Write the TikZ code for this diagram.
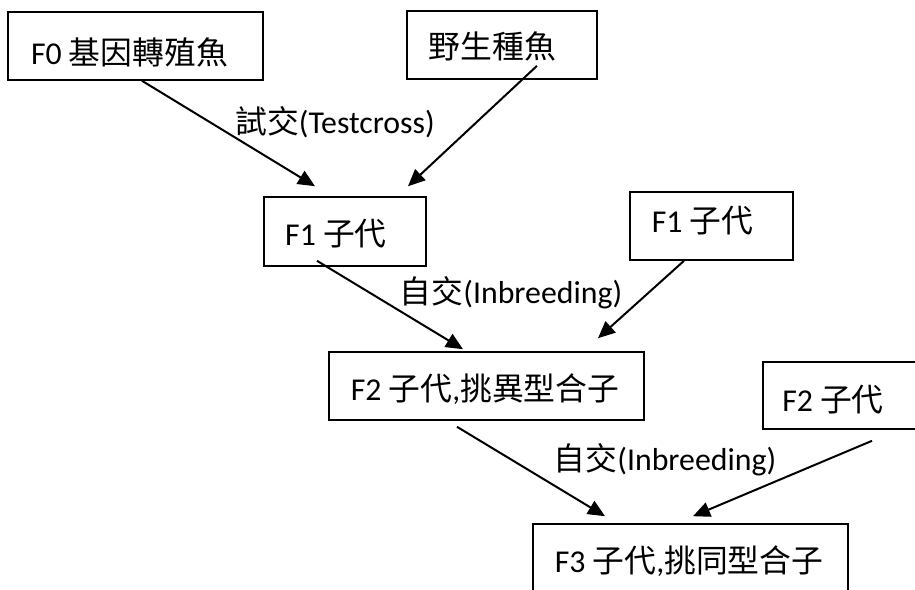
\documentclass[tikz,border=0pt]{standalone}
\usepackage{fontspec}
\setmainfont{Carlito}
\newfontfamily\cjk{Noto Sans CJK TC}
\usetikzlibrary{arrows.meta}
\begin{document}
\begin{tikzpicture}[x=1pt,y=-1pt,
  box/.style={draw=black,line width=1.6pt,rectangle,inner sep=0pt},
  txt/.style={inner sep=0pt,font=\fontsize{31.8}{36}\selectfont},
  arr/.style={line width=2pt,-{Triangle[length=17pt,width=15pt]}}]
\useasboundingbox (0,0) rectangle (915,589);
\clip (0,0) rectangle (915,589);
% boxes
\node[box,minimum width=255pt,minimum height=68pt] (b1) at (135.5,46) {};
\node[box,minimum width=190pt,minimum height=68pt] (b2) at (502,45) {};
\node[box,minimum width=162pt,minimum height=69pt] (b3) at (345,231.5) {};
\node[box,minimum width=163pt,minimum height=68pt] (b4) at (711.5,226) {};
\node[box,minimum width=315pt,minimum height=68pt] (b5) at (486.5,386) {};
\node[box,minimum width=162pt,minimum height=67pt] (b6) at (844,395.5) {};
\node[box,minimum width=315pt,minimum height=76pt] (b7) at (690.5,562) {};
% texts
\node[txt] (t1) at (129.5,52) {F0 {\cjk 基因轉殖魚}};
\node[txt] (t2) at (492.5,46) {{\cjk 野生種魚}};
\node[txt] (t3) at (336,234) {F1 {\cjk 子代}};
\node[txt] (t4) at (702.5,221) {F1 {\cjk 子代}};
\node[txt] (t5) at (485,389) {F2 {\cjk 子代},{\cjk 挑異型合子}};
\node[txt] (t6) at (833,400) {F2 {\cjk 子代}};
\node[txt] (t7) at (689,561) {F3 {\cjk 子代},{\cjk 挑同型合子}};
% labels
\node[txt] (l1) at (335,122) {{\cjk 試交}(Testcross)};
\node[txt] (l2) at (511,293) {{\cjk 自交}(Inbreeding)};
\node[txt] (l3) at (665,460) {{\cjk 自交}(Inbreeding)};
% arrows
\draw[arr] ([xshift=6.5pt]b1.south) -- ([xshift=-30pt,yshift=10pt]b3.north);
\draw[arr] ([xshift=35pt,yshift=14pt]b2.south) -- ([xshift=63pt,yshift=10pt]b3.north);
\draw[arr] ([xshift=-28pt,yshift=6pt]b3.south) -- ([xshift=-23.5pt,yshift=2pt]b5.north);
\draw[arr] ([xshift=-27.5pt]b4.south) -- ([xshift=111.5pt,yshift=13pt]b5.north);
\draw[arr] ([xshift=-29.5pt,yshift=-6pt]b5.south) -- ([xshift=-85.5pt,yshift=7pt]b7.north);
\draw[arr] ([xshift=28pt,yshift=-11pt]b6.south) -- ([xshift=2.5pt,yshift=7pt]b7.north);
\end{tikzpicture}
\end{document}
